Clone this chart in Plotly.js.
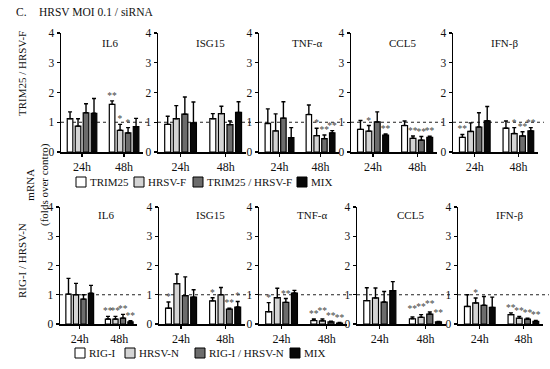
<!DOCTYPE html>
<html><head><meta charset="utf-8">
<script src="https://cdn.plot.ly/plotly-3.0.1.min.js"></script>
<style>html,body{margin:0;padding:0;background:#fff}#chart{width:550px;height:369px}</style>
</head><body><div id="chart"></div>
<script>
// ---------- data ----------
const timepoints = ['24h', '48h'];
const genes = ['IL6', 'ISG15', 'TNF-α', 'CCL5', 'IFN-β'];
const seriesTop = ['TRIM25', 'HRSV-F', 'TRIM25 / HRSV-F', 'MIX'];
const seriesBottom = ['RIG-I', 'HRSV-N', 'RIG-I / HRSV-N', 'MIX'];
const rowLabels = ['TRIM25 / HRSV-F', 'RIG-I / HRSV-N'];
const seriesColors = ['#ffffff', '#d4d4d4', '#6c6c6c', '#080808'];

// values per series: [24h, 48h]
// --- top row (TRIM25 / HRSV-F) ---
const topIL6Mean = [[1.12, 1.60], [0.87, 0.73], [1.32, 0.64], [1.30, 0.85]];
const topIL6Err  = [[0.23, 0.12], [0.25, 0.20], [0.30, 0.18], [0.50, 0.28]];
const topIL6Sig  = [['', '**'], ['', '*'], ['', '*'], ['', '']];

const topISG15Mean = [[0.93, 1.12], [1.12, 1.29], [1.27, 0.92], [0.98, 1.33]];
const topISG15Err  = [[0.27, 0.17], [0.44, 0.25], [0.58, 0.12], [0.70, 0.36]];
const topISG15Sig  = [['', ''], ['', ''], ['', ''], ['', '']];

const topTNFMean = [[0.96, 1.26], [0.71, 0.55], [1.14, 0.45], [0.48, 0.64]];
const topTNFErr  = [[0.49, 0.32], [0.57, 0.25], [0.55, 0.12], [0.34, 0.08]];
const topTNFSig  = [['', ''], ['', '*'], ['', '**'], ['', '**']];

const topCCL5Mean = [[0.76, 0.89], [0.70, 0.46], [1.01, 0.40], [0.57, 0.49]];
const topCCL5Err  = [[0.30, 0.15], [0.19, 0.08], [0.34, 0.12], [0.04, 0.04]];
const topCCL5Sig  = [['', ''], ['*', '**'], ['', '**'], ['**', '**']];

const topIFNMean = [[0.49, 0.80], [0.69, 0.62], [0.84, 0.54], [1.05, 0.71]];
const topIFNErr  = [[0.10, 0.24], [0.29, 0.20], [0.48, 0.14], [0.48, 0.11]];
const topIFNSig  = [['**', ''], ['', '*'], ['', '**'], ['', '**']];

// --- bottom row (RIG-I / HRSV-N) ---
const botIL6Mean = [[1.02, 0.17], [1.00, 0.17], [0.85, 0.20], [1.05, 0.07]];
const botIL6Err  = [[0.54, 0.09], [0.39, 0.09], [0.15, 0.13], [0.27, 0.04]];
const botIL6Sig  = [['', '**'], ['', '**'], ['', '**'], ['', '**']];

const botISG15Mean = [[0.54, 0.79], [1.38, 1.00], [0.97, 0.51], [0.92, 0.58]];
const botISG15Err  = [[0.21, 0.11], [0.33, 0.25], [0.64, 0.03], [0.25, 0.19]];
const botISG15Sig  = [['*', '*'], ['', ''], ['', '**'], ['', '*']];

const botTNFMean = [[0.42, 0.12], [0.90, 0.11], [0.74, 0.07], [1.06, 0.03]];
const botTNFErr  = [[0.31, 0.05], [0.32, 0.06], [0.13, 0.03], [0.09, 0.02]];
const botTNFSig  = [['*', '**'], ['', '**'], ['**', '**'], ['', '**']];

const botCCL5Mean = [[0.80, 0.18], [0.89, 0.23], [0.75, 0.34], [1.14, 0.07]];
const botCCL5Err  = [[0.44, 0.06], [0.34, 0.09], [0.36, 0.07], [0.31, 0.02]];
const botCCL5Sig  = [['', '**'], ['', '**'], ['', '**'], ['', '**']];

const botIFNMean = [[0.60, 0.32], [0.72, 0.20], [0.64, 0.17], [0.57, 0.09]];
const botIFNErr  = [[0.40, 0.06], [0.17, 0.06], [0.30, 0.03], [0.35, 0.03]];
const botIFNSig  = [['', '**'], ['*', '**'], ['', '**'], ['', '**']];

const panels = [
  [topIL6Mean, topIL6Err, topIL6Sig], [topISG15Mean, topISG15Err, topISG15Sig],
  [topTNFMean, topTNFErr, topTNFSig], [topCCL5Mean, topCCL5Err, topCCL5Sig],
  [topIFNMean, topIFNErr, topIFNSig],
  [botIL6Mean, botIL6Err, botIL6Sig], [botISG15Mean, botISG15Err, botISG15Sig],
  [botTNFMean, botTNFErr, botTNFSig], [botCCL5Mean, botCCL5Err, botCCL5Sig],
  [botIFNMean, botIFNErr, botIFNSig]
];

// ---------- layout geometry (pixels) ----------
const W = 550, H = 369;
const FONT = 'Liberation Serif, Times New Roman, serif';
const xPix = [
  [[61, 143], [158, 246], [259, 339], [351, 437], [453, 538]],
  [[60, 137], [159, 245], [259, 347], [357, 446], [458, 543]]
];
const yPix = [[33, 152], [207, 324]];   // [top (value 4), bottom (value 0)]
const titleY = [43, 215];
const legendY = [182, 353];
const legendBoxX = [[76, 134, 193, 297], [75, 125, 195, 290]];

const px = v => v / W;
const py = v => (H - v) / H;

const traces = [];
const layout = {
  width: W, height: H,
  margin: {l: 0, r: 0, t: 0, b: 0},
  paper_bgcolor: '#fff', plot_bgcolor: 'rgba(0,0,0,0)',
  showlegend: false,
  barmode: 'group', bargap: 0.24, bargroupgap: 0.3,
  font: {family: FONT, color: '#111', size: 11},
  shapes: [], annotations: []
};

panels.forEach((pd, idx) => {
  const row = Math.floor(idx / 5), col = idx % 5;
  const k = idx + 1;
  const xa = 'x' + (k === 1 ? '' : k), ya = 'y' + (k === 1 ? '' : k);
  const [means, errs, sigs] = pd;
  means.forEach((m, s) => {
    traces.push({
      type: 'bar', x: timepoints, y: m, xaxis: xa, yaxis: ya,
      offsetgroup: 's' + s, hoverinfo: 'skip',
      marker: {color: seriesColors[s], line: {color: '#000', width: 1.2}},
      error_y: {type: 'data', array: errs[s], arrayminus: [0, 0], symmetric: false,
                color: '#000', thickness: 1.4, width: 2}
    });
    traces.push({
      type: 'bar', x: timepoints, y: m.map((v, i) => v + errs[s][i]), xaxis: xa, yaxis: ya,
      offsetgroup: 's' + s, hoverinfo: 'skip',
      marker: {color: 'rgba(0,0,0,0)', line: {width: 0}},
      text: sigs[s], textposition: 'outside', constraintext: 'none', cliponaxis: false,
      textfont: {family: FONT, size: 9.5, color: '#444444'}
    });
  });
  const xn = 'xaxis' + (k === 1 ? '' : k), yn = 'yaxis' + (k === 1 ? '' : k);
  layout[xn] = {
    domain: [px(xPix[row][col][0]), px(xPix[row][col][1])], anchor: ya,
    type: 'category', range: [-0.5, 1.45], fixedrange: true,
    showline: true, linecolor: '#000', linewidth: 1.5, mirror: false,
    ticks: 'outside', ticklen: 3, tickwidth: 1.2, tickcolor: '#000',
    showgrid: false, zeroline: false,
    tickfont: {family: FONT, size: 12, color: '#111'}
  };
  layout[yn] = {
    domain: [py(yPix[row][1]), py(yPix[row][0])], anchor: xa,
    range: [0, 4], tickvals: [0, 1, 2, 3, 4], fixedrange: true,
    showline: true, linecolor: '#000', linewidth: 1.5,
    ticks: 'outside', ticklen: 3, tickwidth: 1.2, tickcolor: '#000',
    showgrid: false, zeroline: false,
    tickfont: {family: FONT, size: 11.5, color: '#111'}
  };
  layout.shapes.push({
    type: 'line', xref: xa + ' domain', yref: ya, x0: 0, x1: 1.07, y0: 1, y1: 1,
    line: {color: '#222', width: 1.2, dash: 'dot'}, layer: 'below'
  });
  layout.annotations.push({
    text: genes[col], xref: xa + ' domain', x: 0.6, yref: 'paper', y: py(titleY[row]),
    xanchor: 'center', yanchor: 'middle',
    showarrow: false, font: {family: FONT, size: 11, color: '#111'}
  });
});

// custom legends (one per row)
[seriesTop, seriesBottom].forEach((names, row) => {
  names.forEach((name, s) => {
    const x0 = legendBoxX[row][s];
    layout.shapes.push({
      type: 'rect', xref: 'paper', yref: 'paper',
      x0: px(x0), x1: px(x0 + 10), y0: py(legendY[row] + 5), y1: py(legendY[row] - 5),
      fillcolor: seriesColors[s], line: {color: '#000', width: 1}
    });
    layout.annotations.push({
      text: name, xref: 'paper', yref: 'paper', x: px(x0 + 12), y: py(legendY[row]),
      xanchor: 'left', yanchor: 'middle', showarrow: false,
      font: {family: FONT, size: 11, color: '#111'}
    });
  });
});

// row labels, shared axis title, panel heading
const rot = {xref: 'paper', yref: 'paper', textangle: -90, xanchor: 'center', yanchor: 'middle',
             showarrow: false, font: {family: FONT, size: 11, color: '#111'}};
layout.annotations.push(
  Object.assign({text: rowLabels[0], x: px(22), y: py(74)}, rot),
  Object.assign({text: rowLabels[1], x: px(22), y: py(261)}, rot),
  Object.assign({text: 'mRNA<br>(folds over contro)', x: px(38), y: py(185)}, rot),
  {text: 'C.', xref: 'paper', yref: 'paper', x: px(14), y: py(12), xanchor: 'left', yanchor: 'middle',
   showarrow: false, font: {family: FONT, size: 11.5, color: '#111'}},
  {text: 'HRSV MOI 0.1 / siRNA', xref: 'paper', yref: 'paper', x: px(37), y: py(12),
   xanchor: 'left', yanchor: 'middle',
   showarrow: false, font: {family: FONT, size: 11.5, color: '#111'}}
);

Plotly.newPlot('chart', traces, layout, {staticPlot: true, displayModeBar: false});
</script>
</body></html>
